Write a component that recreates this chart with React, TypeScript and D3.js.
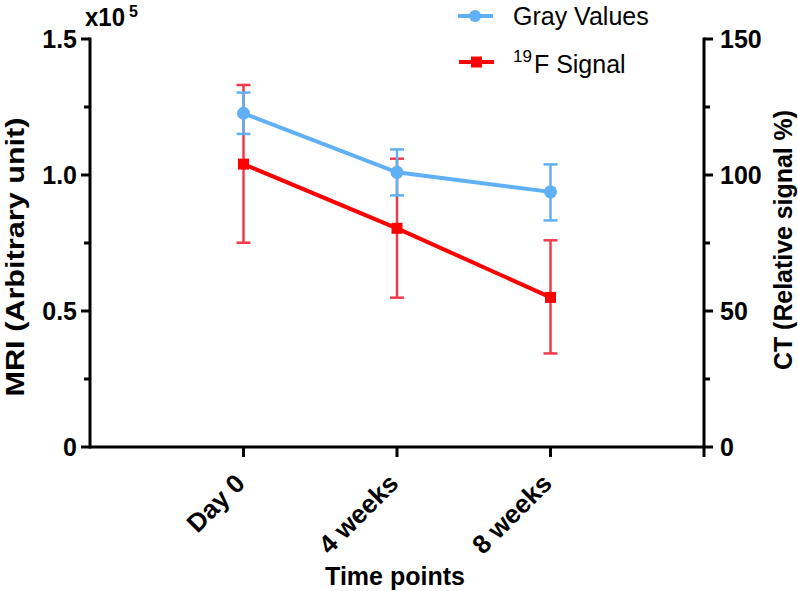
import React from "react";
import * as d3 from "d3";

const categories = ["Day 0", "4 weeks", "8 weeks"];
// Gray Values (CT, relative signal %)
const grayMean = [122.7, 101.0, 93.8];
const grayUpper = [130.3, 109.4, 103.9];
const grayLower = [115.1, 92.5, 83.3];
// 19F Signal (MRI, arbitrary unit)
const fMean = [104000, 80400, 55000];
const fUpper = [133100, 106000, 76000];
const fLower = [75100, 54900, 34400];

const mriTicks = [0, 50000, 100000, 150000];
const mriTickLabels = ["0", "0.5", "1.0", "1.5"];
const mriMinor = [25000, 75000, 125000];
const ctTicks = [0, 50, 100, 150];
const ctMinor = [25, 75, 125];

const W = 798, H = 591;
const left = 90, right = 704, top = 39, bottom = 447;
const BLUE = "#5fb0f4";
const RED = "#ff0000";
const RED_ERR = "#ef3b4a";
const FONT = "'Liberation Sans', Arial, sans-serif";

export default function App() {
  const x = d3.scalePoint<string>().domain(categories).range([left, right]).padding(1);
  const yM = d3.scaleLinear().domain([0, 150000]).range([bottom, top]);
  const yC = d3.scaleLinear().domain([0, 150]).range([bottom, top]);
  const line = d3.line<[number, number]>().x(d => d[0]).y(d => d[1]);
  const grayPts: [number, number][] = categories.map((c, i) => [x(c)!, yC(grayMean[i])]);
  const fPts: [number, number][] = categories.map((c, i) => [x(c)!, yM(fMean[i])]);
  const cap = 7;

  return (
    <svg width={W} height={H} style={{ position: "absolute", left: 0, top: 0, background: "#fff" }} fontFamily={FONT}>
      {/* error bars red */}
      {categories.map((c, i) => (
        <g key={"fe" + i} stroke={RED_ERR} strokeWidth={2.5}>
          <line x1={x(c)} x2={x(c)} y1={yM(fUpper[i])} y2={yM(fLower[i])} />
          <line x1={x(c)! - cap} x2={x(c)! + cap} y1={yM(fUpper[i])} y2={yM(fUpper[i])} />
          <line x1={x(c)! - cap} x2={x(c)! + cap} y1={yM(fLower[i])} y2={yM(fLower[i])} />
        </g>
      ))}
      {/* error bars blue */}
      {categories.map((c, i) => (
        <g key={"ge" + i} stroke={BLUE} strokeWidth={2.5}>
          <line x1={x(c)} x2={x(c)} y1={yC(grayUpper[i])} y2={yC(grayLower[i])} />
          <line x1={x(c)! - cap} x2={x(c)! + cap} y1={yC(grayUpper[i])} y2={yC(grayUpper[i])} />
          <line x1={x(c)! - cap} x2={x(c)! + cap} y1={yC(grayLower[i])} y2={yC(grayLower[i])} />
        </g>
      ))}
      <path d={line(fPts)!} fill="none" stroke={RED} strokeWidth={4} />
      {fPts.map((p, i) => (
        <rect key={"fr" + i} x={p[0] - 5.5} y={p[1] - 5.5} width={11} height={11} fill={RED} />
      ))}
      <path d={line(grayPts)!} fill="none" stroke={BLUE} strokeWidth={4} />
      {grayPts.map((p, i) => (
        <circle key={"gc" + i} cx={p[0]} cy={p[1]} r={6.5} fill={BLUE} />
      ))}

      {/* axes */}
      <g stroke="#000" strokeWidth={3}>
        <line x1={left} x2={left} y1={top - 1.5} y2={bottom + 1.5} />
        {mriTicks.map(t => <line key={"lt" + t} x1={left - 9} x2={left} y1={yM(t)} y2={yM(t)} />)}
        {mriMinor.map(t => <line key={"lm" + t} x1={left - 6} x2={left} y1={yM(t)} y2={yM(t)} />)}
        <line x1={right} x2={right} y1={top - 1.5} y2={bottom + 10} />
        {ctTicks.map(t => <line key={"rt" + t} x1={right} x2={right + 9} y1={yC(t)} y2={yC(t)} />)}
        {ctMinor.map(t => <line key={"rm" + t} x1={right} x2={right + 6} y1={yC(t)} y2={yC(t)} />)}
        <line x1={left} x2={right} y1={bottom} y2={bottom} />
        {categories.map(c => <line key={"xt" + c} x1={x(c)} x2={x(c)} y1={bottom} y2={bottom + 10} />)}
      </g>
      {mriTicks.map((t, i) => (
        <text key={"ll" + t} x={left - 13} y={yM(t)} dy="0.36em" textAnchor="end" fontSize={25} fontWeight="bold">{mriTickLabels[i]}</text>
      ))}
      {ctTicks.map(t => (
        <text key={"rl" + t} x={right + 16} y={yC(t)} dy="0.36em" textAnchor="start" fontSize={25} fontWeight="bold">{t}</text>
      ))}
      <text x={85} y={26} fontSize={25} fontWeight="bold" textLength={40} lengthAdjust="spacingAndGlyphs">x10</text>
      <text x={129} y={17} fontSize={16} fontWeight="bold">5</text>

      {categories.map(c => (
        <text key={"xl" + c} transform={`translate(${x(c)! + 3},${bottom + 38}) rotate(-45)`} textAnchor="end" fontSize={26} fontWeight="bold">{c}</text>
      ))}
      <text x={395} y={585} textAnchor="middle" fontSize={25} fontWeight="bold">Time points</text>
      <text transform={`translate(24,257) rotate(-90)`} textAnchor="middle" fontSize={25} fontWeight="bold" textLength={279} lengthAdjust="spacingAndGlyphs">MRI (Arbitrary unit)</text>
      <text transform={`translate(792,240) rotate(-90)`} textAnchor="middle" fontSize={25} fontWeight="bold" textLength={260} lengthAdjust="spacingAndGlyphs">CT (Relative signal %)</text>

      {/* legend */}
      <line x1={458} x2={493} y1={16} y2={16} stroke={BLUE} strokeWidth={4} />
      <circle cx={475} cy={16} r={6} fill={BLUE} />
      <text x={513} y={25} fontSize={25}>Gray Values</text>
      <line x1={459} x2={494} y1={62} y2={62} stroke={RED} strokeWidth={4} />
      <rect x={471} y={56.5} width={11} height={11} fill={RED} />
      <text x={513} y={73} fontSize={25}><tspan fontSize={17} dy={-11}>19</tspan><tspan dy={11} dx={2}>F Signal</tspan></text>
    </svg>
  );
}
